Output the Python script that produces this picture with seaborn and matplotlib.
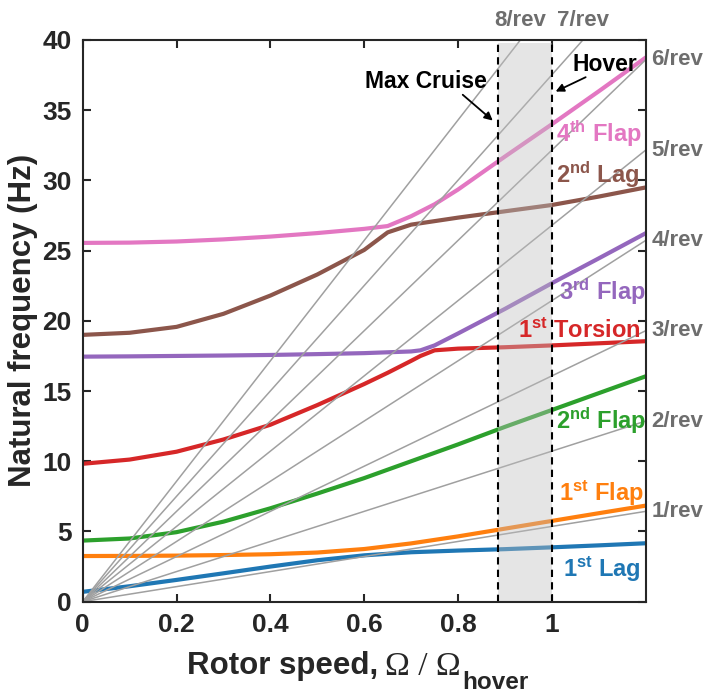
import numpy as np
import pandas as pd
import matplotlib
matplotlib.use("Agg")
import matplotlib.pyplot as plt
import seaborn as sns

sns.set_style("ticks")
plt.rcParams["font.family"] = ["Liberation Sans", "DejaVu Sans"]
plt.rcParams["font.weight"] = "bold"
plt.rcParams["mathtext.fontset"] = "custom"
plt.rcParams["mathtext.bf"] = "Liberation Sans:bold"
plt.rcParams["mathtext.rm"] = "Liberation Sans"
plt.rcParams["mathtext.default"] = "bf"

# --- data ---
grid = [0, 0.1, 0.2, 0.3, 0.4, 0.5, 0.6, 0.7, 0.8, 0.9, 1.0, 1.1, 1.2]

lag1_x = grid
lag1_y = [0.7, 1.1, 1.55, 2.02, 2.5, 2.95, 3.3, 3.52, 3.64, 3.74, 3.87, 4.01, 4.16]

flap1_x = grid
flap1_y = [3.25, 3.26, 3.28, 3.32, 3.38, 3.5, 3.75, 4.15, 4.65, 5.2, 5.75, 6.3, 6.84]

flap2_x = grid
flap2_y = [4.35, 4.5, 4.95, 5.7, 6.65, 7.7, 8.8, 10.0, 11.2, 12.45, 13.65, 14.85, 16.05]

tors1_x = [0, 0.1, 0.2, 0.3, 0.4, 0.5, 0.6, 0.65, 0.7, 0.72, 0.75, 0.8, 0.9, 1.0, 1.1, 1.2]
tors1_y = [9.82, 10.12, 10.68, 11.55, 12.6, 14.0, 15.5, 16.3, 17.15, 17.5, 17.9, 18.02, 18.12, 18.25, 18.4, 18.55]

flap3_x = [0, 0.1, 0.2, 0.3, 0.4, 0.5, 0.6, 0.7, 0.72, 0.75, 0.8, 0.9, 1.0, 1.1, 1.2]
flap3_y = [17.45, 17.47, 17.5, 17.53, 17.57, 17.63, 17.7, 17.82, 17.9, 18.25, 19.1, 20.85, 22.68, 24.45, 26.24]

lag2_x = [0, 0.1, 0.2, 0.3, 0.4, 0.5, 0.6, 0.65, 0.7, 0.75, 0.8, 0.9, 1.0, 1.1, 1.2]
lag2_y = [19.0, 19.15, 19.57, 20.5, 21.8, 23.3, 25.05, 26.3, 26.85, 27.1, 27.35, 27.8, 28.25, 28.85, 29.5]

flap4_x = [0, 0.1, 0.2, 0.3, 0.4, 0.5, 0.6, 0.65, 0.7, 0.75, 0.8, 0.9, 1.0, 1.1, 1.2]
flap4_y = [25.55, 25.57, 25.65, 25.8, 26.0, 26.25, 26.55, 26.75, 27.45, 28.3, 29.35, 31.7, 34.0, 36.35, 38.75]

mode_names = ["1st Lag", "1st Flap", "2nd Flap", "1st Torsion", "3rd Flap", "2nd Lag", "4th Flap"]
mode_colors = ["#1f77b4", "#ff7f0e", "#2ca02c", "#d62728", "#9467bd", "#8c564b", "#e377c2"]

# n/rev excitation lines
rev_orders = [1, 2, 3, 4, 5, 6, 7, 8]
f_hover = 5.36  # rotor frequency at hover (Hz)

max_cruise = 0.8855
hover = 1.0

# label text / placement
mode_labels = [r"$\mathbf{1^{st}}$ Lag", r"$\mathbf{1^{st}}$ Flap", r"$\mathbf{2^{nd}}$ Flap",
               r"$\mathbf{1^{st}}$ Torsion", r"$\mathbf{3^{rd}}$ Flap", r"$\mathbf{2^{nd}}$ Lag",
               r"$\mathbf{4^{th}}$ Flap"]
mode_label_x = [1.023, 1.015, 1.009, 0.928, 1.015, 1.009, 1.009]
mode_label_y = [1.74, 7.2, 12.28, 18.76, 21.5, 29.8, 32.74]

# --- build frame ---
xs = [lag1_x, flap1_x, flap2_x, tors1_x, flap3_x, lag2_x, flap4_x]
ys = [lag1_y, flap1_y, flap2_y, tors1_y, flap3_y, lag2_y, flap4_y]
df = pd.concat([pd.DataFrame({"speed": x, "freq": y, "mode": m})
                for x, y, m in zip(xs, ys, mode_names)], ignore_index=True)

rev_df = pd.concat([pd.DataFrame({"speed": [0, 1.2],
                                  "freq": [0, n * f_hover * 1.2],
                                  "rev": f"{n}/rev"}) for n in rev_orders], ignore_index=True)

fig = plt.figure(figsize=(7.04, 6.98), dpi=100)
ax = fig.add_axes([0.1175, 0.138, 0.7997, 0.8047])

sns.lineplot(data=df, x="speed", y="freq", hue="mode", palette=dict(zip(mode_names, mode_colors)),
             linewidth=3, legend=False, sort=False, estimator=None, ax=ax, zorder=2)
sns.lineplot(data=rev_df, x="speed", y="freq", units="rev", estimator=None, color="#a0a0a0",
             linewidth=1.1, legend=False, ax=ax, zorder=3)

# shaded operating band + dashed bounds
ax.axvspan(max_cruise, hover, ymax=0.995, color="#c0c0c0", alpha=0.4, lw=0, zorder=4)
for xv in [max_cruise, hover]:
    ax.axvline(xv, ymax=0.995, color="k", ls=(0, (3.5, 2.5)), lw=1.5, zorder=5)

ax.text(0.862, 37.04, "Max Cruise", ha="right", va="center", fontsize=16.5, fontweight="bold", color="k")
ax.annotate("", xy=(0.874, 34.26), xytext=(0.81, 36.1),
            arrowprops=dict(arrowstyle="-|>", color="k", lw=1.3, mutation_scale=12, shrinkA=0, shrinkB=0))
ax.text(1.044, 38.22, "Hover", ha="left", va="center", fontsize=16.5, fontweight="bold", color="k")
ax.annotate("", xy=(1.008, 36.33), xytext=(1.072, 37.35),
            arrowprops=dict(arrowstyle="-|>", color="k", lw=1.3, mutation_scale=12, shrinkA=0, shrinkB=0))

for lab, lx, ly, c in zip(mode_labels, mode_label_x, mode_label_y, mode_colors):
    ax.text(lx, ly, lab, ha="left", va="baseline", fontsize=17, fontweight="bold", color=c, zorder=6)

for n in rev_orders:
    end = n * f_hover * 1.2
    if end <= 40:
        ax.text(1.212, end, f"{n}/rev", ha="left", va="center", fontsize=16,
                fontweight="bold", color="#6e6e6e", clip_on=False)
    else:
        ax.text(40 / (n * f_hover), 41.4, f"{n}/rev", ha="center", va="center", fontsize=16,
                fontweight="bold", color="#6e6e6e", clip_on=False)

ax.set_xlim(0, 1.2)
ax.set_ylim(0, 40)
ax.set_xticks([0, 0.2, 0.4, 0.6, 0.8, 1])
ax.set_xticklabels(["0", "0.2", "0.4", "0.6", "0.8", "1"])
ax.set_yticks(range(0, 41, 5))
ax.tick_params(direction="in", top=True, right=True, length=6, width=1.5,
               labelsize=19, colors="#262626", pad=8)
for lbl in ax.get_xticklabels() + ax.get_yticklabels():
    lbl.set_fontweight("bold")
for s in ax.spines.values():
    s.set_linewidth(1.5)
    s.set_color("#262626")
    s.set_zorder(7)

# x label in three pieces: bold text, serif Omegas, bold subscript
ax.set_xlabel("Rotor speed,", fontsize=22.5, fontweight="bold", color="#262626", ha="left")
ax.xaxis.set_label_coords(0.185, -0.088)
omega = ax.annotate("\u03a9 / \u03a9", xy=(1, 0), xycoords=ax.xaxis.label, xytext=(5, 4.7),
                    textcoords="offset points", ha="left", va="baseline", fontsize=24,
                    family="Liberation Serif", fontweight="normal", color="#262626", annotation_clip=False)
ax.annotate("hover", xy=(1, 0), xycoords=omega, xytext=(1, -5.5), textcoords="offset points",
            ha="left", va="baseline", fontsize=17.5, fontweight="bold", color="#262626", annotation_clip=False)
ax.set_ylabel("Natural frequency (Hz)", fontsize=22.5, fontweight="bold", color="#262626")
ax.yaxis.set_label_coords(-0.08, 0.5)

fig.savefig("out.png", dpi=100)
plt.close(fig)
